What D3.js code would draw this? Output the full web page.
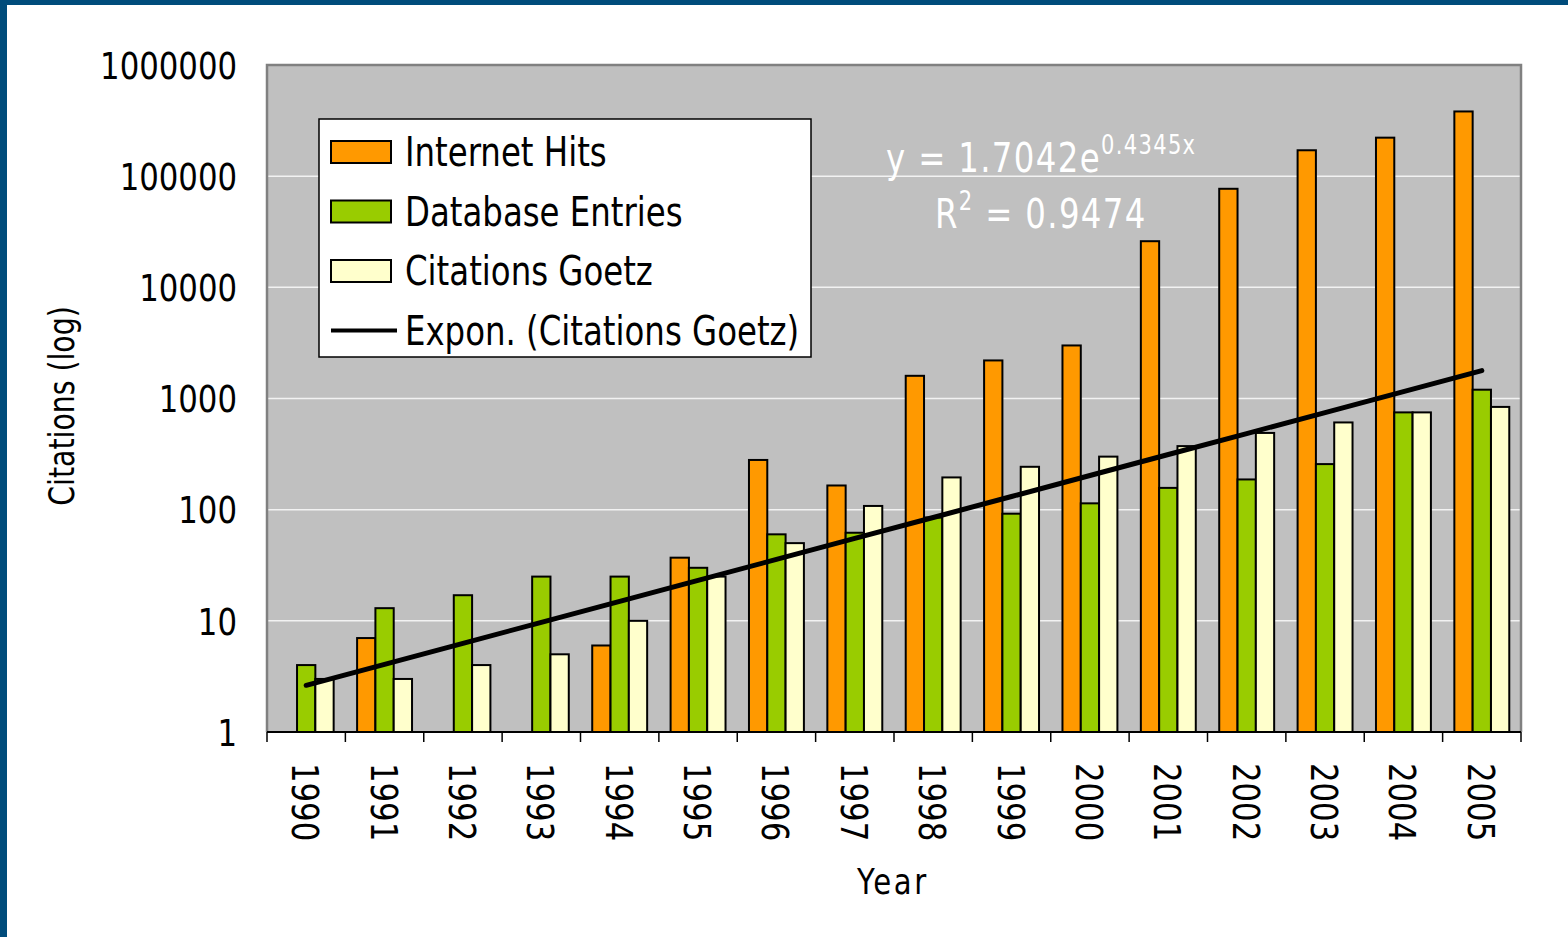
<!DOCTYPE html>
<html>
<head>
<meta charset="utf-8">
<script src="https://cdn.jsdelivr.net/npm/d3@7/dist/d3.min.js"></script>
<style>
  body { margin: 0; background: #fff; }
  svg text { font-family: 'DejaVu Sans Condensed', 'DejaVu Sans', sans-serif; }
</style>
</head>
<body>
<div id="chart"></div>
<script>
// Data
const years = ['1990', '1991', '1992', '1993', '1994', '1995', '1996', '1997',
  '1998', '1999', '2000', '2001', '2002', '2003', '2004', '2005'];
const seriesNames = ['Internet Hits', 'Database Entries', 'Citations Goetz'];
const internetHits = [0, 7, 0, 0, 6, 37, 280, 165, 1600, 2200, 3000, 26000, 77000, 171000, 222000, 382000];
const databaseEntries = [4, 13, 17, 25, 25, 30, 60, 62, 85, 92, 114, 157, 187, 257, 750, 1200];
const citationsGoetz = [3, 3, 4, 5, 10, 25, 50, 108, 195, 243, 300, 373, 490, 609, 750, 840];
// exponential trend of Citations Goetz, y = 1.7042e^(0.4345x)
const trendValues = [2.63, 4.06, 6.28, 9.69, 14.97, 23.11, 35.69, 55.1, 85.09, 131.4,
  202.9, 313.3, 483.9, 747.2, 1153.8, 1781.6];
const yTicks = [1, 10, 100, 1000, 10000, 100000, 1000000];

const seriesData = [internetHits, databaseEntries, citationsGoetz];
const barColors = ['#FF9900', '#99CC00', '#FFFFCC'];

const W = 1568, H = 937;
const plot = { left: 267, right: 1521, top: 65, bottom: 732 };
const squeeze = 0.9; // horizontal text compression, the original font is narrow

const svg = d3.select('#chart').append('svg')
  .attr('width', W)
  .attr('height', H);

// frame
svg.append('rect').attr('x', 0).attr('y', 0).attr('width', W).attr('height', 5).attr('fill', '#004C7B');
svg.append('rect').attr('x', 0).attr('y', 0).attr('width', 7).attr('height', H).attr('fill', '#004C7B');

// Scales
const xScale = d3.scaleBand()
  .domain(years)
  .range([plot.left, plot.right])
  .paddingInner(0)
  .paddingOuter(0);

const xSub = d3.scaleBand()
  .domain(d3.range(3))
  .range([0, xScale.bandwidth()])
  .paddingInner(0)
  .paddingOuter(0.64);

const yScale = d3.scaleLog()
  .domain([1, 1000000])
  .range([plot.bottom, plot.top]);

// plot background
svg.append('rect')
  .attr('x', plot.left)
  .attr('y', plot.top)
  .attr('width', plot.right - plot.left)
  .attr('height', plot.bottom - plot.top)
  .attr('fill', '#C0C0C0');

// gridlines
svg.append('g')
  .selectAll('line')
  .data(yTicks.slice(1, -1))
  .enter()
  .append('line')
  .attr('x1', plot.left)
  .attr('x2', plot.right)
  .attr('y1', d => yScale(d))
  .attr('y2', d => yScale(d))
  .attr('stroke', '#F2F2F2')
  .attr('stroke-width', 1.5);

// plot border (top / right / left)
svg.append('path')
  .attr('d', `M${plot.left},${plot.bottom} V${plot.top} H${plot.right} V${plot.bottom}`)
  .attr('fill', 'none')
  .attr('stroke', '#808080')
  .attr('stroke-width', 2.5);

// bars
const groups = svg.append('g')
  .selectAll('g')
  .data(seriesData)
  .enter()
  .append('g')
  .attr('fill', (d, i) => barColors[i]);

groups.each(function(vals, si) {
  d3.select(this).selectAll('rect')
    .data(vals.map((v, i) => ({ year: years[i], v: v })).filter(d => d.v > 0))
    .enter()
    .append('rect')
    .attr('x', d => xScale(d.year) + xSub(si))
    .attr('width', xSub.bandwidth())
    .attr('y', d => yScale(d.v))
    .attr('height', d => yScale(1) - yScale(d.v))
    .attr('stroke', '#000')
    .attr('stroke-width', 2);
});

// trend line
const line = d3.line()
  .x((d, i) => xScale(years[i]) + xScale.bandwidth() / 2)
  .y(d => yScale(d));

svg.append('path')
  .datum(trendValues)
  .attr('d', line)
  .attr('fill', 'none')
  .attr('stroke', '#000')
  .attr('stroke-width', 5)
  .attr('stroke-linecap', 'round');

// x-axis
svg.append('line')
  .attr('x1', plot.left)
  .attr('x2', plot.right)
  .attr('y1', plot.bottom)
  .attr('y2', plot.bottom)
  .attr('stroke', '#000')
  .attr('stroke-width', 2);

// x tick marks at category boundaries
svg.append('g')
  .selectAll('line')
  .data(years.concat(['end']))
  .enter()
  .append('line')
  .attr('x1', (d, i) => plot.left + i * xScale.step())
  .attr('x2', (d, i) => plot.left + i * xScale.step())
  .attr('y1', plot.bottom)
  .attr('y2', plot.bottom + 10)
  .attr('stroke', '#000')
  .attr('stroke-width', 1.5);

// x tick labels, rotated
svg.append('g')
  .selectAll('text')
  .data(years)
  .enter()
  .append('text')
  .attr('transform', d => `translate(${xScale(d) + xScale.bandwidth() / 2 - 14}, 763) rotate(90) scale(${squeeze}, 1)`)
  .attr('font-size', 38)
  .attr('fill', '#000')
  .text(d => d);

// y-axis labels
svg.append('g')
  .selectAll('text')
  .data(yTicks)
  .enter()
  .append('text')
  .attr('transform', d => `translate(237, ${yScale(d)}) scale(${squeeze}, 1)`)
  .attr('dy', '0.36em')
  .attr('text-anchor', 'end')
  .attr('font-size', 38)
  .attr('fill', '#000')
  .text(d => d);

// axis titles
svg.append('text')
  .attr('transform', `translate(893, 894) scale(${squeeze}, 1)`)
  .attr('text-anchor', 'middle')
  .attr('font-size', 36)
  .attr('letter-spacing', 3)
  .text('Year');

svg.append('text')
  .attr('transform', `translate(74, 406) rotate(-90) scale(${squeeze}, 1)`)
  .attr('text-anchor', 'middle')
  .attr('font-size', 35)
  .text('Citations (log)');

// trend equation
const eq = svg.append('text')
  .attr('transform', `translate(886, 172) scale(${squeeze}, 1)`)
  .attr('fill', '#fff')
  .attr('font-size', 40)
  .attr('letter-spacing', 1.5);
eq.append('tspan').text('y = 1.7042e');
eq.append('tspan').attr('font-size', 26).attr('dy', -18).text('0.4345x');

const r2 = svg.append('text')
  .attr('transform', `translate(935, 228) scale(${squeeze}, 1)`)
  .attr('fill', '#fff')
  .attr('font-size', 40)
  .attr('letter-spacing', 1.5);
r2.append('tspan').text('R');
r2.append('tspan').attr('font-size', 26).attr('dy', -18).text('2');
r2.append('tspan').attr('dy', 18).text(' = 0.9474');

// legend
const legendX = 319, legendY = 119;
svg.append('rect')
  .attr('x', legendX)
  .attr('y', legendY)
  .attr('width', 492)
  .attr('height', 238)
  .attr('fill', '#fff')
  .attr('stroke', '#000')
  .attr('stroke-width', 1.5);

const legendItems = seriesNames.concat(['Expon. (Citations Goetz)']);
const legend = svg.selectAll('.legend')
  .data(legendItems)
  .enter()
  .append('g')
  .attr('class', 'legend')
  .attr('transform', (d, i) => `translate(${legendX}, ${legendY + 33 + i * 59.5})`);

legend.filter((d, i) => i < 3)
  .append('rect')
  .attr('x', 12)
  .attr('y', -11)
  .attr('width', 60)
  .attr('height', 22)
  .attr('fill', (d, i) => barColors[i])
  .attr('stroke', '#000')
  .attr('stroke-width', 2);

legend.filter((d, i) => i === 3)
  .append('line')
  .attr('x1', 12)
  .attr('x2', 78)
  .attr('y1', 0)
  .attr('y2', 0)
  .attr('stroke', '#000')
  .attr('stroke-width', 4);

legend.append('text')
  .attr('transform', `translate(86, 0) scale(${squeeze}, 1)`)
  .attr('dy', '0.36em')
  .attr('font-size', 40)
  .text(d => d);
</script>
</body>
</html>
